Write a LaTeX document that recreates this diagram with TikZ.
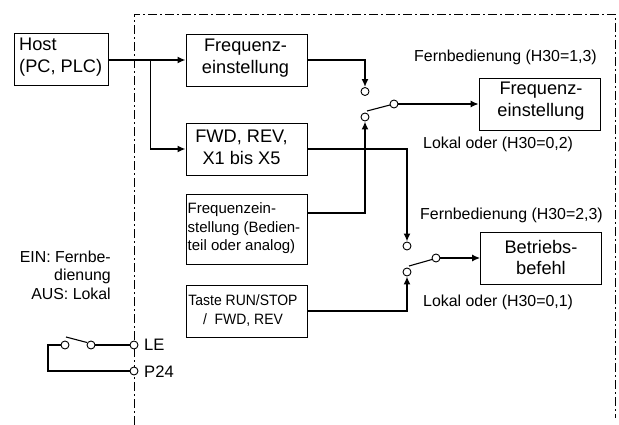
\documentclass[tikz,border=0pt]{standalone}
\usepackage{fontspec}
\setmainfont{Liberation Sans}
\usetikzlibrary{arrows.meta,calc}
\newcommand{\bigfont}{\fontsize{18.2}{21.6}\selectfont}
\newcommand{\smallfont}{\fontsize{15}{18.5}\selectfont}
\newcommand{\labfont}{\fontsize{15.9}{18.5}\selectfont}
\newcommand{\pinfont}{\fontsize{16.6}{20}\selectfont}
\tikzset{
  boxnode/.style={draw=black,line width=0.9pt,minimum width=#1,inner sep=0pt,align=center,font=\bigfont},
  boxnode/.default=121pt,
  contact/.style={circle,draw=black,fill=white,line width=0.9pt,minimum size=8pt,inner sep=0pt},
  thickline/.style={line width=1.8pt},
  thinline/.style={line width=1.1pt},
  tip/.style={-{Latex[length=8pt,width=7pt]}},
  lab/.style={inner sep=0pt,font=\labfont,anchor=west},
  frameline/.style={line width=0.9pt,dash pattern=on 9pt off 3pt on 2pt off 3pt}
}
\begin{document}
\begin{tikzpicture}[x=1pt,y=-1pt]
\useasboundingbox (0,0) rectangle (619,425);
% frame
\coordinate (fbl) at (134,425);
\coordinate (ftl) at (134,14);
\coordinate (ftr) at (615,14);
\coordinate (fbr) at (615,418);
\draw[frameline] (fbl) -- (ftl) -- (ftr) -- (fbr);
% boxes
\node[boxnode=94.5pt,minimum height=52pt] (host) at (61.2,59.5) {};
\node[inner sep=0pt,align=left,font=\bigfont,anchor=west] (hostt) at (19,57) {Host\\(PC, PLC)};
\node[boxnode,minimum height=52pt] (f1) at (246.5,60) {};
\node[inner sep=0pt,align=center,font=\bigfont] (f1t) at (245.5,58) {Frequenz-\\einstellung};
\node[boxnode,minimum height=52pt] (f2) at (246.5,149) {};
\node[inner sep=0pt,align=center,font=\bigfont] (f2t) at (241.5,147.5) {FWD, REV,\\X1 bis X5};
\node[boxnode,minimum height=70pt] (f3) at (246.5,229) {};
\node[inner sep=0pt,align=left,font=\smallfont,anchor=west] (f3t) at (187.5,228.5) {Frequenzein-\\stellung (Bedien-\\teil oder analog)};
\node[boxnode,minimum height=52pt] (f4) at (246.5,311) {};
\node[inner sep=0pt,align=center,font=\smallfont] (f4t) at (243,310.5) {\scalebox{0.93}[1]{Taste RUN/STOP}\\\scalebox{0.93}[1]{/ \ FWD, REV}};
\node[boxnode,minimum height=52pt] (o1) at (539.5,104) {};
\node[inner sep=0pt,align=center,font=\bigfont] (o1t) at (541,101) {Frequenz-\\einstellung};
\node[boxnode,minimum height=52pt] (o2) at (541,258) {};
\node[inner sep=0pt,align=center,font=\bigfont] (o2t) at (541,257.5) {Betriebs-\\befehl};
% contacts
\node[contact] (a1) at (365,91.5) {};
\node[contact] (a2) at (365,117) {};
\node[contact] (a3) at (394,104) {};
\node[contact] (b1) at (407,246) {};
\node[contact] (b2) at (407,272) {};
\node[contact] (b3) at (436,258) {};
\node[contact] (s1) at (65,345) {};
\node[contact] (s2) at (91,345) {};
\node[contact] (le) at (134,345) {};
\node[contact] (p24) at (134,371) {};
% free corners
\coordinate (hb) at (150.5,60);
\coordinate (sw) at (48,345);
\coordinate (sb) at (48,371);
\coordinate (bladeA) at (367,111);
\coordinate (bladeB) at (390,105);
\coordinate (bladeC) at (409,266);
\coordinate (bladeD) at (432,259.5);
\coordinate (bladeE) at (66,337);
\coordinate (bladeF) at (87,342.5);
% connectors
\draw[thickline,tip] (host.east |- f1) -- (f1.west);
\draw[thickline,tip] (hb) |- (f2.west);
\draw[thickline,tip] (f1.east) -| (a1.north);
\draw[thickline,tip] (f2.east) -| (b1.north);
\draw[thickline,tip] (f3.east |- 0,213) -| (a2.south);
\draw[thickline,tip] (f4.east) -| (b2.south);
\draw[thinline,tip] (a3.east) -- (o1.west);
\draw[thinline,tip] (b3.east) -- (o2.west);
\draw[thinline] (bladeA) -- (bladeB);
\draw[thinline] (bladeC) -- (bladeD);
\draw[thinline] (bladeE) -- (bladeF);
\draw[thinline] (s2.east) -- (le.west);
\draw[thinline] (s1.west) -- (sw) -- (sb) -- (p24.west);
% labels
\node[lab] (l1) at (414,57.5) {Fernbedienung (H30=1,3)};
\node[lab] (l2) at (423,144.5) {Lokal oder (H30=0,2)};
\node[lab] (l3) at (420,215) {Fernbedienung (H30=2,3)};
\node[lab] (l4) at (423,302) {Lokal oder (H30=0,1)};
\node[inner sep=0pt,align=right,font=\labfont,anchor=east] (ein) at (111,275) {EIN: Fernbe-\\dienung\\AUS: Lokal};
\node[inner sep=0pt,font=\pinfont,anchor=west] (let) at (144,345) {LE};
\node[inner sep=0pt,font=\pinfont,anchor=west] (pt) at (144,371.5) {P24};
\end{tikzpicture}
\end{document}
